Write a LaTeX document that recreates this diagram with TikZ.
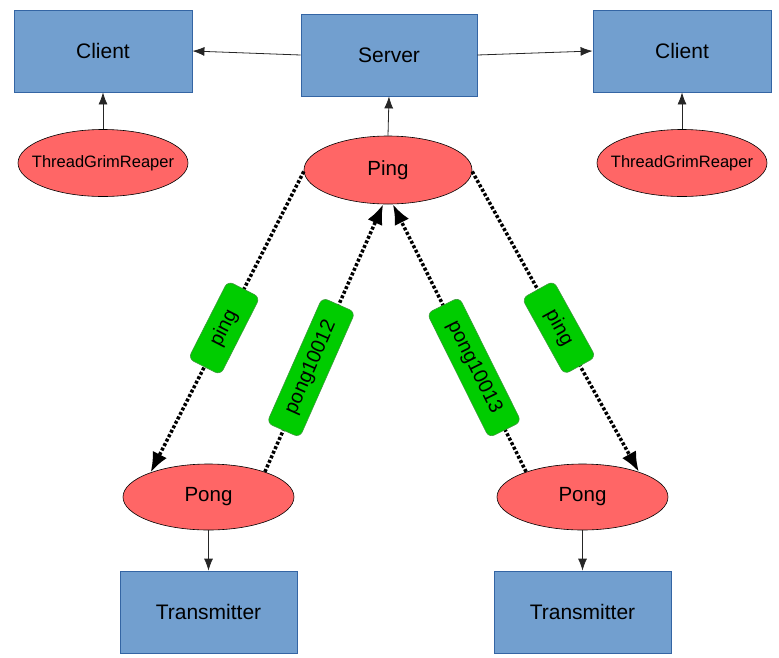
\documentclass[tikz,border=0pt]{standalone}
\usepackage{fontspec}
\setmainfont{Liberation Sans}
\usetikzlibrary{arrows.meta,shapes.geometric}
\definecolor{boxblue}{HTML}{729FCF}
\definecolor{boxedge}{HTML}{3465A4}
\definecolor{elred}{HTML}{FF6666}
\definecolor{lblgreen}{HTML}{00CC00}
\definecolor{lbledge}{HTML}{3C9A3C}
\begin{document}
\begin{tikzpicture}[x=1pt,y=-1pt,
  bluebox/.style={rectangle, draw=boxedge, fill=boxblue, line width=0.8pt, minimum width=178pt, minimum height=82pt, inner sep=0pt, font=\fontsize{21}{24}\selectfont},
  redell/.style={ellipse, draw=black, fill=elred, line width=0.6pt, minimum width=170pt, minimum height=67pt, inner sep=0pt, font=\fontsize{20.5}{24}\selectfont},
  plainarrow/.style={draw=black!85, line width=0.8pt, -{Latex[length=12pt,width=9pt]}},
  msg/.style={draw=black, line width=3.5pt, dash pattern=on 3pt off 2pt, -{Latex[length=20pt,width=16pt]}},
  lbl/.style={rectangle, fill=lblgreen, draw=lbledge, solid, line width=0.6pt, rounded corners=6pt, minimum height=36pt, inner sep=0pt, font=\fontsize{20}{22}\selectfont}]
\useasboundingbox (0,0) rectangle (779,657);

% boxes
\node[bluebox] (clientL) at (103,51) {Client};
\node[bluebox, minimum width=176pt] (server) at (389,55) {Server};
\node[bluebox] (clientR) at (682,51) {Client};
\node[bluebox, minimum width=177pt] (transL) at (208.5,612) {Transmitter};
\node[bluebox, minimum width=177pt] (transR) at (582.5,612) {Transmitter};

% ellipses
\node[redell, font=\fontsize{16.5}{20}\selectfont] (tgrL) at (103,163) {\makebox[0pt][c]{ThreadGrimReaper}};
\node[redell, font=\fontsize{16.5}{20}\selectfont] (tgrR) at (682,163) {\makebox[0pt][c]{ThreadGrimReaper}};
\node[redell, minimum width=168pt, minimum height=68pt] (ping) at (388,170) {Ping};
\node[redell, minimum width=171pt, minimum height=66pt] (pongL) at (208.5,497) {Pong};
\node[redell, minimum width=171pt, minimum height=66pt] (pongR) at (582.5,497) {Pong};

% plain arrows
\draw[plainarrow] (server.west) -- (clientL.east);
\draw[plainarrow] (server.east) -- (clientR.west);
\draw[plainarrow] (tgrL.north) -- (clientL.south);
\draw[plainarrow] (tgrR.north) -- (clientR.south);
\draw[plainarrow] (ping.north) -- (server.south);
\draw[plainarrow] (pongL.south) -- (transL.north);
\draw[plainarrow] (pongR.south) -- (transR.north);

% message arrows
\draw[msg] (ping.181) -- node[lbl, sloped, pos=0.52, minimum width=87pt] (lbl1) {ping} (pongL.157);
\draw[msg] (pongL.24) -- node[lbl, sloped, pos=0.39, minimum width=137pt] (lbl2) {pong10012} (ping.262);
\draw[msg] (pongR.156) -- node[lbl, sloped, pos=0.39, minimum width=139pt] (lbl3) {pong10013} (ping.278);
\draw[msg] (ping.359) -- node[lbl, sloped, pos=0.52, minimum width=87pt] (lbl4) {ping} (pongR.24);
\end{tikzpicture}
\end{document}
